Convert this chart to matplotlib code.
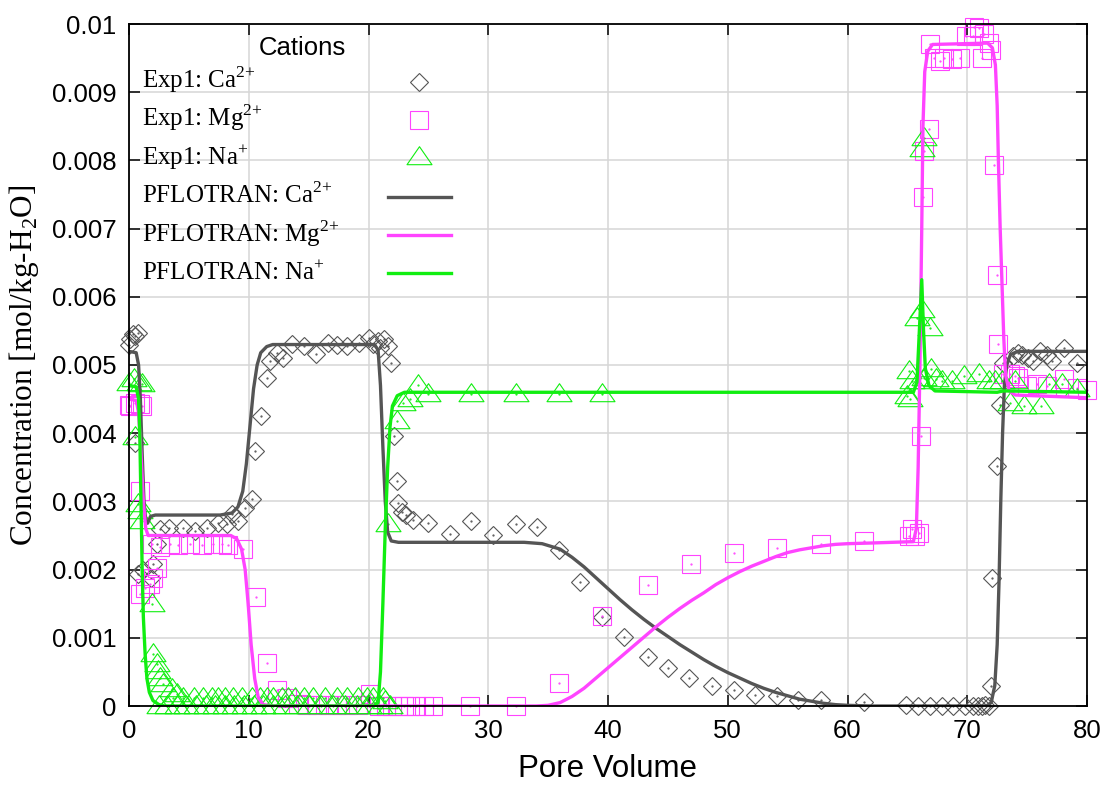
import matplotlib
matplotlib.use("Agg")
import matplotlib.pyplot as plt
from matplotlib.path import Path
from matplotlib.ticker import MultipleLocator, FuncFormatter

# --- experimental data (pore volume, concentration in 1e-3 mol/kg-H2O) ---
ca_exp_x = [0.0, 0.1, 0.3, 0.5, 0.75, 0.5, 0.75, 1.2, 1.8, 2.0, 2.3, 2.6,
            3.3, 4.5, 5.5, 6.5, 7.4, 8.2, 8.6, 9.1, 9.7, 10.3,
            10.5, 11.0, 11.5, 11.8, 12.4, 12.9, 13.6, 14.6, 15.6, 16.6, 17.4, 18.2,
            19.2, 20.0, 20.4, 20.8, 21.0, 21.3, 21.6, 21.9,
            22.1, 22.4, 22.5, 22.8, 23.1, 23.7, 25.0, 26.8, 28.6, 30.4, 32.3, 34.1,
            35.9, 37.7, 39.5, 41.3, 43.3, 45.0, 46.8, 48.7, 50.5, 52.3, 54.1, 55.9,
            57.8, 61.4,
            64.9, 65.9, 66.9, 67.9, 68.8, 69.8, 70.5, 70.9, 71.2, 71.5, 71.8,
            72.0, 72.1, 72.5, 72.7, 73.0, 73.8, 74.2, 74.6, 75.1, 75.5, 76.1, 76.7,
            77.1, 78.1, 79.2]
ca_exp_y = [5.30, 5.38, 5.45, 5.42, 5.47, 3.86, 1.94, 2.00, 1.88, 2.08, 2.38, 2.60,
            2.61, 2.61, 2.57, 2.61, 2.68, 2.67, 2.82, 2.71, 2.90, 3.04,
            3.74, 4.25, 4.81, 5.06, 5.18, 5.10, 5.31, 5.28, 5.16, 5.32, 5.29, 5.28,
            5.32, 5.40, 5.31, 5.35, 5.25, 5.38, 5.28, 5.03,
            3.96, 3.30, 2.97, 2.85, 2.80, 2.72, 2.69, 2.52, 2.71, 2.51, 2.67, 2.63,
            2.29, 1.82, 1.30, 1.01, 0.72, 0.56, 0.41, 0.29, 0.23, 0.16, 0.15, 0.09,
            0.09, 0.06,
            0.01, 0.0, 0.0, 0.0, 0.0, 0.0, 0.0, 0.0, 0.0, 0.02, 0.0,
            0.30, 1.87, 3.52, 4.42, 5.03, 5.13, 5.18, 5.15, 5.10, 5.06, 5.21, 5.15,
            5.06, 5.25, 5.03]

mg_exp_x = [0.0, 0.1, 0.5, 0.9, 1.1, 0.9, 0.9, 1.3, 1.76, 2.0, 2.3,
            1.9, 2.6, 3.4, 4.1, 5.1, 6.1, 7.0, 7.8, 8.3, 9.5,
            10.6, 11.5, 12.4, 13.2, 14.1, 14.9, 15.7, 16.6, 17.4, 18.2, 19.1, 20.1,
            20.9, 21.5, 22.0, 22.5, 23.0, 23.5, 24.0, 24.6, 25.4,
            28.5, 32.3, 35.9, 39.5, 43.3, 46.9, 50.5, 54.1, 57.8, 61.4,
            65.1, 65.4, 65.6, 66.0, 66.1, 66.3, 66.4, 66.8,
            66.9, 67.2, 67.7, 68.1, 68.7, 69.4, 69.9, 70.5, 70.6, 71.0, 71.2, 71.4,
            71.8, 72.0,
            72.2, 72.5, 72.6, 73.0, 73.6, 74.0, 74.2, 75.0, 75.8, 76.7, 78.1, 79.2, 80.0]
mg_exp_y = [4.42, 4.40, 4.44, 4.43, 4.40, 3.15, 1.64, 1.73, 1.79, 1.88, 2.02,
            2.38, 2.33, 2.38, 2.36, 2.37, 2.36, 2.37, 2.38, 2.36, 2.30,
            1.60, 0.63, 0.24, 0.12, 0.03, 0.02, 0.02, 0.02, 0.02, 0.02, 0.02, 0.18,
            0.0, 0.0, 0.0, 0.0, 0.0, 0.0, 0.0, 0.0, 0.0,
            0.0, 0.0, 0.34, 1.32, 1.77, 2.08, 2.24, 2.32, 2.38, 2.42,
            2.50, 2.60, 2.49, 2.53, 3.96, 7.46, 8.14, 8.46,
            9.71, 9.50, 9.46, 9.50, 9.49, 9.50, 9.82, 9.82, 9.95, 9.94, 9.50, 9.85,
            9.72, 9.62,
            7.93, 6.32, 5.31, 4.87, 4.87, 4.84, 4.81, 4.69, 4.72, 4.69, 4.79, 4.66, 4.63]

na_exp_x = [0.0, 0.4, 0.8, 1.1, 0.5, 0.75, 0.9, 1.1, 1.9,
            2.0, 2.3, 2.4, 2.6, 2.8, 3.6, 4.0,
            3.7, 4.5, 5.4, 6.2, 6.9, 7.4, 8.0, 8.7, 9.4, 10.3, 10.9, 11.5, 12.0,
            12.8, 13.3, 13.9, 14.6, 15.4, 16.4, 17.4, 18.2, 19.1, 19.9, 20.4, 21.2,
            2.5, 3.2, 4.0, 4.8, 5.6, 6.4, 7.2, 8.0, 8.8, 9.6, 10.4, 11.2, 12.0,
            13.0, 14.0, 15.0, 16.0, 17.0, 18.0, 19.0, 20.0, 21.0, 21.8,
            21.4, 21.6, 22.4, 22.9, 23.5, 24.1, 25.0, 28.6, 32.3, 35.9, 39.5,
            65.0, 65.2, 65.8, 66.2, 66.9, 66.2, 66.4,
            65.1, 65.4, 66.0, 66.4, 67.0, 67.4, 67.9, 68.7, 69.7, 71.0, 71.8, 72.3,
            72.9, 73.6, 74.0, 74.7, 76.2, 76.8, 77.9, 79.2]
na_exp_y = [4.74, 4.80, 4.74, 4.72, 3.95, 2.96, 2.86, 2.71, 1.50,
            0.76, 0.62, 0.51, 0.41, 0.32, 0.25, 0.18,
            0.12, 0.12, 0.12, 0.12, 0.12, 0.12, 0.12, 0.12, 0.12, 0.12, 0.12, 0.12,
            0.12, 0.12, 0.12, 0.12, 0.12, 0.12, 0.12, 0.12, 0.12, 0.12, 0.12, 0.12,
            0.12,
            0.0, 0.0, 0.0, 0.0, 0.0, 0.0, 0.0, 0.0, 0.0, 0.0, 0.0, 0.0, 0.0,
            0.0, 0.0, 0.0, 0.0, 0.0, 0.0, 0.0, 0.0, 0.0, 0.0,
            0.07, 2.67, 4.18, 4.44, 4.50, 4.70, 4.57, 4.57, 4.57, 4.57, 4.57,
            4.55, 4.50, 5.69, 5.80, 5.54, 8.17, 8.33,
            4.91, 4.77, 4.77, 4.81, 4.94, 4.79, 4.77, 4.77, 4.84, 4.87, 4.77, 4.77,
            4.77, 4.45, 4.77, 4.40, 4.40, 4.72, 4.72, 4.65]

# --- PFLOTRAN simulated curves ---
ca_sim_x = [0.0, 0.6, 0.8, 0.95, 1.1, 1.25, 1.4, 1.55, 1.8, 2.2, 3.0, 7.6, 8.6,
            9.1, 9.5, 9.8, 10.1, 10.4, 10.7, 11.0, 11.5, 12.0, 20.5, 20.8, 21.0,
            21.2, 21.4, 21.6, 21.9, 22.5, 33.0, 34.5, 36.0, 37.0, 38.0, 39.0, 40.0,
            41.0, 42.0, 43.0, 44.0, 45.0, 46.0, 47.0, 48.0, 49.0, 50.0, 51.0, 52.0,
            53.0, 54.0, 55.0, 56.0, 57.0, 58.0, 59.0, 60.0, 62.0, 71.6, 72.0, 72.3,
            72.5, 72.65, 72.8, 72.95, 73.1, 73.3, 73.6, 74.2, 80.0]
ca_sim_y = [5.20, 5.18, 5.00, 4.50, 3.70, 3.00, 2.70, 2.68, 2.78, 2.80, 2.80, 2.80,
            2.83, 2.92, 3.15, 3.55, 4.10, 4.65, 5.00, 5.18, 5.27, 5.30, 5.30, 5.22,
            4.70, 3.80, 3.00, 2.55, 2.42, 2.40, 2.40, 2.38, 2.30, 2.18, 2.04, 1.88,
            1.72, 1.56, 1.41, 1.27, 1.14, 1.02, 0.90, 0.79, 0.68, 0.58, 0.49, 0.41,
            0.33, 0.26, 0.20, 0.15, 0.10, 0.07, 0.04, 0.02, 0.01, 0.0, 0.0, 0.05,
            0.30, 0.90, 1.80, 3.00, 4.00, 4.70, 5.00, 5.15, 5.20, 5.20]

mg_sim_x = [0.0, 0.6, 0.8, 1.0, 1.2, 1.4, 1.6, 2.0, 8.5, 9.0, 9.4, 9.7, 9.95,
            10.2, 10.5, 10.8, 11.2, 12.0, 34.0, 35.0, 36.0, 37.0, 38.0, 39.0, 40.0,
            41.0, 42.0, 43.0, 44.0, 45.0, 46.0, 47.0, 48.0, 49.0, 50.0, 51.0, 52.0,
            53.0, 54.0, 55.0, 56.0, 57.0, 58.0, 59.0, 60.0, 62.0, 65.5, 65.75, 65.9,
            66.05, 66.2, 66.3, 66.45, 66.7, 67.1, 71.7, 72.1, 72.35, 72.5, 72.6,
            72.75, 72.9, 73.05, 73.2, 73.5, 74.0, 80.0]
mg_sim_y = [4.50, 4.48, 4.30, 3.70, 3.00, 2.60, 2.50, 2.50, 2.50, 2.45, 2.30, 2.00,
            1.50, 0.90, 0.40, 0.12, 0.02, 0.0, 0.0, 0.01, 0.05, 0.14, 0.26, 0.41,
            0.56, 0.71, 0.86, 1.01, 1.16, 1.30, 1.43, 1.55, 1.66, 1.78, 1.88, 1.97,
            2.05, 2.12, 2.19, 2.25, 2.29, 2.32, 2.35, 2.37, 2.38, 2.39, 2.41, 2.60,
            3.50, 5.00, 7.00, 8.50, 9.30, 9.60, 9.70, 9.72, 9.65, 9.40, 8.80, 8.00,
            7.00, 6.20, 5.40, 4.85, 4.62, 4.56, 4.52]

na_sim_x = [0.0, 0.6, 0.8, 0.9, 1.0, 1.1, 1.2, 1.35, 1.5, 1.7, 2.0, 2.5, 3.0,
            20.5, 20.8, 21.0, 21.2, 21.4, 21.6, 21.8, 22.0, 22.4, 23.0, 65.5, 65.8,
            66.0, 66.2, 66.35, 66.5, 66.8, 67.3, 72.5, 73.0, 80.0]
na_sim_y = [4.70, 4.68, 4.50, 4.00, 3.00, 2.00, 1.30, 0.75, 0.40, 0.20, 0.08, 0.02,
            0.0, 0.0, 0.05, 0.50, 1.50, 2.60, 3.50, 4.10, 4.40, 4.55, 4.60, 4.60,
            4.75, 5.50, 6.25, 5.50, 4.95, 4.70, 4.62, 4.60, 4.62, 4.60]

ca_col = "#555555"
mg_col = "#ff44ff"
na_col = "#11ee11"

scale = 1e-3
tri = Path([(-1, -0.576), (1, -0.576), (0, 0.864), (-1, -0.576)],
           [Path.MOVETO, Path.LINETO, Path.LINETO, Path.CLOSEPOLY])

fig = plt.figure(figsize=(11.04, 7.85), dpi=100)
ax = fig.add_axes([129 / 1104, 1 - 706 / 785, 958 / 1104, 682 / 785])

ax.grid(True, color="#d6d6d6", linewidth=1.1)
ax.set_axisbelow(True)

def sc(v):
    return [y * scale for y in v]

pt_kw = dict(linestyle="none", markerfacecolor="none", markeredgewidth=0.8,
             clip_on=False)
ax.plot(ca_exp_x, sc(ca_exp_y), marker="D", markersize=9.2,
        markeredgecolor=ca_col, **pt_kw)
ax.plot(ca_exp_x, sc(ca_exp_y), ".", color=ca_col, markersize=1.2, clip_on=False)
ax.plot(mg_exp_x, sc(mg_exp_y), marker="s", markersize=13.2,
        markeredgecolor=mg_col, **pt_kw)
ax.plot(mg_exp_x, sc(mg_exp_y), ".", color=mg_col, markersize=1.2, clip_on=False)
ax.plot(na_exp_x, sc(na_exp_y), marker=tri, markersize=18,
        markeredgecolor=na_col, **pt_kw)
ax.plot(na_exp_x, sc(na_exp_y), ".", color=na_col, markersize=1.2, clip_on=False)

ax.plot(ca_sim_x, sc(ca_sim_y), color=ca_col, linewidth=2.4)
ax.plot(mg_sim_x, sc(mg_sim_y), color=mg_col, linewidth=2.4)
ax.plot(na_sim_x, sc(na_sim_y), color=na_col, linewidth=2.4)

ax.set_xlim(0, 80)
ax.set_ylim(0, 0.01)
ax.xaxis.set_major_locator(MultipleLocator(10))
ax.yaxis.set_major_locator(MultipleLocator(0.001))
ax.yaxis.set_major_formatter(FuncFormatter(lambda v, p: "%g" % round(v, 4)))
ax.tick_params(direction="in", length=8, width=1.1, top=True, right=True,
               labelsize=18.5, colors="black")
ax.tick_params(axis="x", pad=9)
ax.tick_params(axis="y", pad=9)
for t in ax.get_xticklabels() + ax.get_yticklabels():
    t.set_fontfamily("Liberation Sans")
for s in ax.spines.values():
    s.set_linewidth(1.3)

ax.set_xlabel("Pore Volume", fontsize=22.5, family="Liberation Sans", labelpad=8)
ax.set_ylabel(r"Concentration [mol/kg-H$_\mathregular{2}$O]", fontsize=22.5,
              family="Liberation Serif", labelpad=8)

# --- legend drawn by hand: text left, sample right ---
ax.text(0.1806, 0.9545, "Cations", transform=ax.transAxes, ha="center",
        va="baseline", fontsize=18.5, family="Liberation Sans")
labels = [r"Exp1: Ca$^\mathregular{2{+}}$", r"Exp1: Mg$^\mathregular{2{+}}$",
          r"Exp1: Na$^\mathregular{{+}}$", r"PFLOTRAN: Ca$^\mathregular{2{+}}$",
          r"PFLOTRAN: Mg$^\mathregular{2{+}}$", r"PFLOTRAN: Na$^\mathregular{{+}}$"]
base_y = [0.9062, 0.8504, 0.7933, 0.7375, 0.6804, 0.6246]
for lab, yb in zip(labels, base_y):
    ax.text(0.0136, yb, lab, transform=ax.transAxes, ha="left", va="baseline",
            fontsize=18, family="Liberation Serif")

ax.plot([0.3027], [0.915], transform=ax.transAxes, marker="D", markersize=9.2,
        markeredgecolor=ca_col, **pt_kw)
ax.plot([0.3027], [0.8592], transform=ax.transAxes, marker="s", markersize=13.2,
        markeredgecolor=mg_col, **pt_kw)
ax.plot([0.3027], [0.805], transform=ax.transAxes, marker=tri, markersize=18,
        markeredgecolor=na_col, **pt_kw)
for yl, c in zip([0.7463, 0.6906, 0.6349], [ca_col, mg_col, na_col]):
    ax.plot([0.2704, 0.3361], [yl, yl], transform=ax.transAxes, color=c,
            linewidth=2.4)

fig.savefig("out.png", dpi=100)
